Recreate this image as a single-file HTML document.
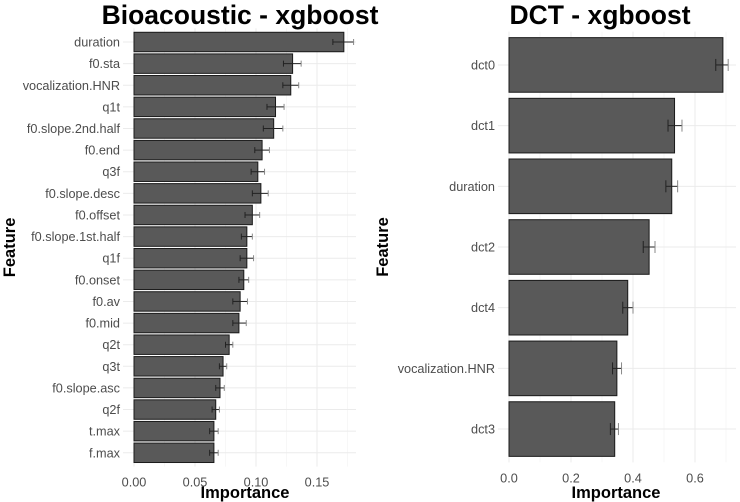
<!DOCTYPE html>
<html><head><meta charset="utf-8"><style>
body{margin:0;background:#fff;}
svg{display:block;font-family:"Liberation Sans",Arial,sans-serif;}
</style></head><body>
<svg id="c" width="740" height="502"></svg>
<script>
const leftFeatures=["duration","f0.sta","vocalization.HNR","q1t","f0.slope.2nd.half","f0.end","q3f","f0.slope.desc","f0.offset","f0.slope.1st.half","q1f","f0.onset","f0.av","f0.mid","q2t","q3t","f0.slope.asc","q2f","t.max","f.max"];
const leftValues=[0.172,0.130,0.1285,0.116,0.1145,0.105,0.1015,0.104,0.097,0.0925,0.0925,0.090,0.087,0.086,0.078,0.073,0.0705,0.067,0.0655,0.0655];
const leftErrLo=[0.163,0.1225,0.122,0.109,0.106,0.099,0.096,0.097,0.091,0.088,0.087,0.086,0.081,0.081,0.075,0.070,0.067,0.064,0.062,0.062];
const leftErrHi=[0.180,0.137,0.135,0.123,0.122,0.111,0.107,0.110,0.103,0.097,0.098,0.094,0.093,0.092,0.081,0.076,0.074,0.070,0.069,0.069];
const leftTicks=[0,0.05,0.10,0.15];
const leftTickLabels=["0.00","0.05","0.10","0.15"];
const rightFeatures=["dct0","dct1","duration","dct2","dct4","vocalization.HNR","dct3"];
const rightValues=[0.690,0.534,0.525,0.452,0.383,0.348,0.341];
const rightErrLo=[0.667,0.513,0.506,0.433,0.367,0.334,0.327];
const rightErrHi=[0.707,0.558,0.544,0.471,0.400,0.363,0.353];
const rightTicks=[0,0.2,0.4,0.6];
const rightTickLabels=["0.0","0.2","0.4","0.6"];

const svg=document.getElementById('c');
const NS="http://www.w3.org/2000/svg";
function el(tag,attrs,parent){const e=document.createElementNS(NS,tag);for(const k in attrs)e.setAttribute(k,attrs[k]);(parent||svg).appendChild(e);return e;}

function panel(o){
  const g=el('g',{});
  
  
  const x=v=>o.x0+v*o.scale;
  const n=o.cats.length;
  const pitch=(o.bottom-o.top)/n;
  const yc=i=>o.top+pitch*(i+0.5);
  for(let i=0;i<o.ticks.length;i++){
    const t=o.ticks[i], step=o.ticks[1]-o.ticks[0];
    const mx=x(t+step/2);
    if(mx<o.right) el('line',{x1:mx,x2:mx,y1:o.top-3,y2:o.bottom+3,stroke:'#f2f2f2','stroke-width':0.6},g);
    el('line',{x1:x(t),x2:x(t),y1:o.top-3,y2:o.bottom+3,stroke:'#ebebeb','stroke-width':1},g);
  }
  for(let i=0;i<n;i++) el('line',{x1:o.left,x2:o.right,y1:yc(i),y2:yc(i),stroke:'#ebebeb','stroke-width':1},g);
  for(let i=0;i<n;i++){
    const h=pitch*0.9;
    const b=el('rect',{x:x(0),y:yc(i)-h/2,width:x(o.vals[i])-x(0),height:h,fill:'#595959',stroke:'#1a1a1a','stroke-width':1},g);
    
    
    const eg=el('g',{stroke:'#222','stroke-width':1},g);
    
    
    const w=o.cap;
    el('line',{x1:x(o.lo[i]),x2:x(o.hi[i]),y1:yc(i),y2:yc(i)},eg);
    el('line',{x1:x(o.lo[i]),x2:x(o.lo[i]),y1:yc(i)-w,y2:yc(i)+w},eg);
    el('line',{x1:x(o.hi[i]),x2:x(o.hi[i]),y1:yc(i)-w,y2:yc(i)+w,stroke:'#888'},eg);
    const t=el('text',{x:o.left-3,y:yc(i)+4.5,'text-anchor':'end','font-size':12.7,fill:'#4d4d4d'},g);
    t.textContent=o.cats[i];
    
    
  }
  for(let i=0;i<o.ticks.length;i++){
    const t=el('text',{x:x(o.ticks[i]),y:o.bottom+23,'text-anchor':'middle','font-size':12.7,fill:'#4d4d4d'},g);
    t.textContent=o.tickLabels[i];
    
    
  }
  const xt=el('text',{x:o.xtX,y:498,'text-anchor':'middle','font-size':16.5,'font-weight':'bold',fill:'#000'},g);
  xt.textContent='Importance';
  
  
  const yt=el('text',{x:0,y:0,transform:`translate(${o.ytX},${(o.top+o.bottom)/2}) rotate(-90)`,'text-anchor':'middle','font-size':16.5,'font-weight':'bold',fill:'#000'},g);
  yt.textContent='Feature';
  
  
  const tt=el('text',{x:o.titleX,y:24,'text-anchor':'middle','font-size':26.5,'font-weight':'bold',fill:'#000'},g);
  tt.textContent=o.title;
  
  
}
panel({name:'bioacoustic-panel',cats:leftFeatures,vals:leftValues,lo:leftErrLo,hi:leftErrHi,ticks:leftTicks,tickLabels:leftTickLabels,
  x0:134,scale:1220,left:123,right:356,top:31.2,bottom:463.6,cap:3,xtX:245,ytX:15,titleX:240,title:'Bioacoustic - xgboost'});
panel({name:'dct-panel',cats:rightFeatures,vals:rightValues,lo:rightErrLo,hi:rightErrHi,ticks:rightTicks,tickLabels:rightTickLabels,
  x0:509,scale:310,left:498,right:736,top:34.6,bottom:459.4,cap:6,xtX:616,ytX:388,titleX:600,title:'DCT - xgboost'});
</script>
</body></html>
